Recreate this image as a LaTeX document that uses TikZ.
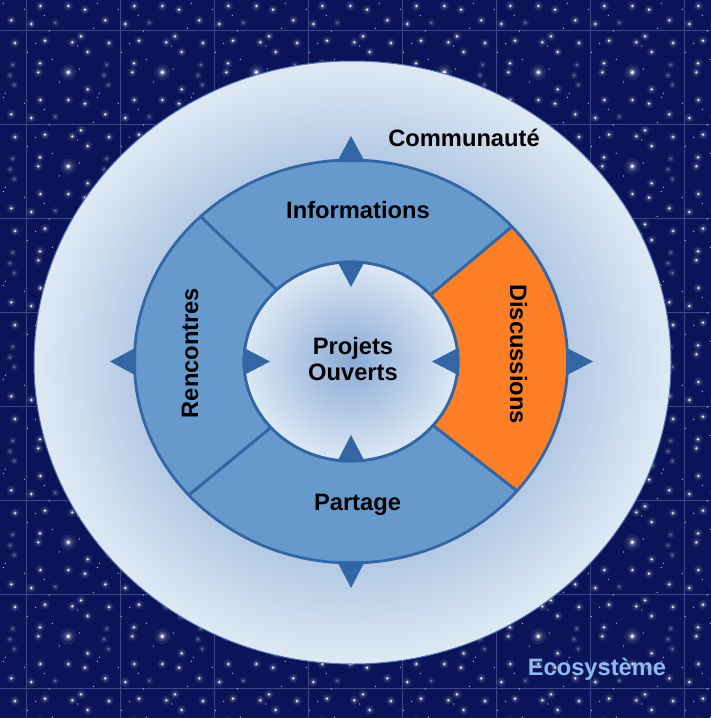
\documentclass[tikz,border=0pt]{standalone}
\usepackage{fontspec}
\setmainfont{Liberation Sans}
\definecolor{navy}{RGB}{11,20,89}
\definecolor{gridc}{RGB}{62,72,132}
\definecolor{ringfill}{RGB}{102,153,204}
\definecolor{ringline}{RGB}{52,102,166}
\definecolor{orangefill}{RGB}{253,127,39}
\definecolor{ecoblue}{RGB}{140,186,240}
\definecolor{ellC}{RGB}{150,178,218}
\definecolor{ellM}{RGB}{181,202,229}
\definecolor{ellE}{RGB}{223,233,245}
\definecolor{inC}{RGB}{138,170,214}
\definecolor{inE}{RGB}{220,232,244}
\definecolor{ellEdge}{RGB}{80,115,180}
% the path's bounding box maps to the central 50bp square, so the path edge is at 25bp
\pgfdeclareradialshading{bigglow}{\pgfpoint{0bp}{0bp}}{color(0bp)=(ellC); color(17bp)=(ellM); color(25bp)=(ellE); color(50bp)=(ellE)}
\pgfdeclareradialshading{coreglow}{\pgfpoint{0bp}{0bp}}{color(0bp)=(inC); color(25bp)=(inE); color(50bp)=(inE)}
\tikzset{
  lbl/.style={font=\fontsize{23.7}{26}\selectfont\bfseries, inner sep=0pt, anchor=base},
  seg/.style={draw=ringline, line width=2.8pt, line join=round},
  tri/.style={fill=ringline},
}
\def\stmed{19/10.7,55/6.3,46.3/12.3,61.7/22,14/33.3,12.3/42.3,61.7/59.3,42.3/70,14.3/70,59/73.7,79.3/84.3,5.3/88,83/13}
\def\stdim{82.3/55,29.3/86.7,80.7/34.7,78/45.3}
\def\stsmall{23.3/1,9.7/13.3,51.7/16,1.3/22.3,53.3/39,33.3/52,71.3/67.3,18.3/79.3,67.3/92.3,92.3/73.3,73.3/63.3,26.3/29.3}
\newcommand\startile{%
  \fill[white,opacity=.07] (42.3,42.3) circle (8);
  \fill[white,opacity=.15] (42.3,42.3) circle (5);
  \fill[white,opacity=.35] (42.3,42.3) circle (2.8);
  \fill[white] (42.3,42.3) circle (1.6);
  \fill[white,opacity=.06] \foreach \sx/\sy in \stmed {(\sx,\sy) circle (5)};
  \fill[white,opacity=.13] \foreach \sx/\sy in \stmed {(\sx,\sy) circle (3.2)};
  \fill[white,opacity=.35] \foreach \sx/\sy in \stmed {(\sx,\sy) circle (1.8)};
  \fill[white] \foreach \sx/\sy in \stmed {(\sx,\sy) circle (1.0)};
  \fill[white,opacity=.06] \foreach \sx/\sy in \stdim {(\sx,\sy) circle (4)};
  \fill[white,opacity=.12] \foreach \sx/\sy in \stdim {(\sx,\sy) circle (2.2)};
  \fill[white,opacity=.4] \foreach \sx/\sy in \stdim {(\sx,\sy) circle (0.8)};
  \fill[white,opacity=.9] \foreach \sx/\sy in \stsmall {(\sx,\sy) circle (0.6)};
}
\begin{document}
\begin{tikzpicture}[x=1pt,y=-1pt]
\useasboundingbox (0,0) rectangle (711,718);
\clip (0,0) rectangle (711,718);
\fill[navy] (0,0) rectangle (711,718);
\foreach \gx in {26,120,...,684} \draw[gridc, line width=1pt] (\gx,0) -- (\gx,718);
\foreach \gy in {30,124,...,688} \draw[gridc, line width=1pt] (0,\gy) -- (711,\gy);
\foreach \ox in {-68,26,...,684} {
  \foreach \oy in {-64,30,...,688} {
    \begin{scope}[shift={(\ox,\oy)}]
      \startile
    \end{scope}
  }
}
% community ellipse
\shade[shading=bigglow] (352.5,362.5) ellipse [x radius=318.5, y radius=301.5];
\draw[ellEdge, line width=1pt] (352.5,362.5) ellipse [x radius=318.5, y radius=301.5];
% ring
\begin{scope}[shift={(351,361.5)}, xscale=1.075]
  \def\R{201.5}
  \def\r{99.5}
  \filldraw[seg, fill=ringfill] (226:\R) arc[start angle=226, end angle=318, radius=\R] -- (318:\r) arc[start angle=318, end angle=226, radius=\r] -- cycle;
  \filldraw[seg, fill=orangefill] (-42:\R) arc[start angle=-42, end angle=40, radius=\R] -- (40:\r) arc[start angle=40, end angle=-42, radius=\r] -- cycle;
  \filldraw[seg, fill=ringfill] (40:\R) arc[start angle=40, end angle=138.5, radius=\R] -- (138.5:\r) arc[start angle=138.5, end angle=40, radius=\r] -- cycle;
  \filldraw[seg, fill=ringfill] (138.5:\R) arc[start angle=138.5, end angle=226, radius=\R] -- (226:\r) arc[start angle=226, end angle=138.5, radius=\r] -- cycle;
  \shade[shading=coreglow] (0,0) circle (\r);
  \draw[ringline, line width=2.8pt] (0,0) circle (\r);
\end{scope}
% arrow heads
\fill[tri] (337,162) -- (365,162) -- (351,136) -- cycle;
\fill[tri] (337,561) -- (365,561) -- (351,588) -- cycle;
\fill[tri] (136,347.5) -- (136,375.5) -- (110,361.5) -- cycle;
\fill[tri] (566,347.5) -- (566,375.5) -- (593,361.5) -- cycle;
\fill[tri] (337,261) -- (365,261) -- (351,287) -- cycle;
\fill[tri] (337,462) -- (365,462) -- (351,435) -- cycle;
\fill[tri] (243,347.5) -- (243,375.5) -- (270,361.5) -- cycle;
\fill[tri] (459,347.5) -- (459,375.5) -- (432,361.5) -- cycle;
% labels
\node[lbl] (communaute) at (464,146.7) {Communauté};
\node[lbl] (informations) at (358,218.3) {Informations};
\node[lbl] (partage) at (357.5,510) {Partage};
\node[lbl, rotate=-90] (discussions) at (510,354) {Discussions};
\node[lbl, rotate=90] (rencontres) at (198,353) {Rencontres};
\node[lbl, anchor=center, align=center] (projets) at (353,359.4) {Projets\\Ouverts};
\node[lbl, text=ecoblue] (ecosysteme) at (597,675) {Ecosystème};
\end{tikzpicture}
\end{document}
